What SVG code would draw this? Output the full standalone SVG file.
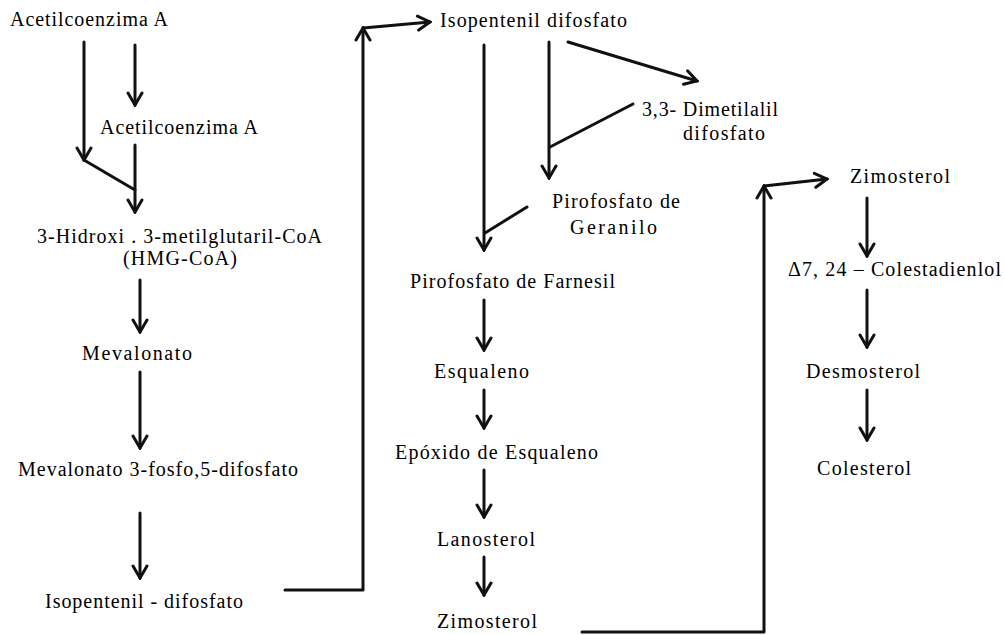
<svg xmlns="http://www.w3.org/2000/svg" width="1004" height="635" viewBox="0 0 1004 635">
<style>
text{font-family:"Liberation Serif","Times New Roman",serif;font-size:20px;fill:#000;}
.c line,.c polyline{stroke:#111;stroke-width:3;fill:none;stroke-linecap:round;stroke-linejoin:round;}
</style>
<defs>
<marker id="ah" markerUnits="userSpaceOnUse" viewBox="-14 -9 16 18" refX="0" refY="0" markerWidth="16" markerHeight="18" orient="auto">
<path d="M-12,-7 L0,0 L-12,7" fill="none" stroke="#111" stroke-width="3" stroke-linecap="round" stroke-linejoin="miter"/>
</marker>
</defs>
<rect width="1004" height="635" fill="#fff"/>
<g class="c" id="connectors">
<line x1="84" y1="42" x2="84" y2="160" marker-end="url(#ah)"/>
<line x1="135" y1="45" x2="135" y2="105" marker-end="url(#ah)"/>
<polyline points="84,160 135,190"/>
<line x1="135" y1="145" x2="135" y2="212" marker-end="url(#ah)"/>
<line x1="140" y1="280" x2="140" y2="332" marker-end="url(#ah)"/>
<line x1="140" y1="372" x2="140" y2="448" marker-end="url(#ah)"/>
<line x1="140" y1="513" x2="140" y2="578" marker-end="url(#ah)"/>
<polyline points="285,590 363,590 363,28" marker-end="url(#ah)"/>
<line x1="363" y1="28" x2="430" y2="22" marker-end="url(#ah)"/>
<line x1="484" y1="45" x2="484" y2="250" marker-end="url(#ah)"/>
<line x1="549" y1="42" x2="549" y2="178" marker-end="url(#ah)"/>
<line x1="568" y1="42" x2="697" y2="81" marker-end="url(#ah)"/>
<line x1="633" y1="104" x2="550" y2="147"/>
<line x1="527" y1="207" x2="485" y2="233"/>
<line x1="484" y1="300" x2="484" y2="350" marker-end="url(#ah)"/>
<line x1="484" y1="390" x2="484" y2="428" marker-end="url(#ah)"/>
<line x1="484" y1="470" x2="484" y2="517" marker-end="url(#ah)"/>
<line x1="484" y1="557" x2="484" y2="595" marker-end="url(#ah)"/>
<polyline points="582,632 764,632 764,186" marker-end="url(#ah)"/>
<line x1="764" y1="186" x2="827" y2="179" marker-end="url(#ah)"/>
<line x1="867" y1="198" x2="867" y2="256" marker-end="url(#ah)"/>
<line x1="867" y1="290" x2="867" y2="347" marker-end="url(#ah)"/>
<line x1="867" y1="390" x2="867" y2="440" marker-end="url(#ah)"/>
</g>
<g id="acetil1"><text x="10" y="26" textLength="158" lengthAdjust="spacing">Acetilcoenzima A</text></g>
<g id="acetil2"><text x="100" y="134" textLength="158" lengthAdjust="spacing">Acetilcoenzima A</text></g>
<g id="hmgcoa"><text x="37" y="243" textLength="285" lengthAdjust="spacing">3-Hidroxi . 3-metilglutaril-CoA</text><text x="123" y="265" textLength="114" lengthAdjust="spacing">(HMG-CoA)</text></g>
<g id="mevalonato"><text x="82" y="360" textLength="110" lengthAdjust="spacing">Mevalonato</text></g>
<g id="mevalonato-pp"><text x="18" y="476" textLength="280" lengthAdjust="spacing">Mevalonato 3-fosfo,5-difosfato</text></g>
<g id="ipp1"><text x="45" y="608" textLength="198" lengthAdjust="spacing">Isopentenil - difosfato</text></g>
<g id="ipp2"><text x="440" y="27" textLength="187" lengthAdjust="spacing">Isopentenil difosfato</text></g>
<g id="dmapp"><text x="642" y="116" textLength="136" lengthAdjust="spacing">3,3- Dimetilalil</text><text x="683" y="140" textLength="82" lengthAdjust="spacing">difosfato</text></g>
<g id="gpp"><text x="552" y="208" textLength="128" lengthAdjust="spacing">Pirofosfato de</text><text x="570" y="234" textLength="87" lengthAdjust="spacing">Geranilo</text></g>
<g id="fpp"><text x="410" y="288" textLength="205" lengthAdjust="spacing">Pirofosfato de Farnesil</text></g>
<g id="esqualeno"><text x="434" y="378" textLength="95" lengthAdjust="spacing">Esqualeno</text></g>
<g id="epoxido"><text x="395" y="459" textLength="203" lengthAdjust="spacing">Epóxido de Esqualeno</text></g>
<g id="lanosterol"><text x="437" y="546" textLength="98" lengthAdjust="spacing">Lanosterol</text></g>
<g id="zimosterol1"><text x="437" y="628" textLength="100" lengthAdjust="spacing">Zimosterol</text></g>
<g id="zimosterol2"><text x="850" y="183" textLength="100" lengthAdjust="spacing">Zimosterol</text></g>
<g id="colestadienol"><text x="788" y="276" textLength="213" lengthAdjust="spacing">Δ7, 24 – Colestadienlol</text></g>
<g id="desmosterol"><text x="806" y="378" textLength="114" lengthAdjust="spacing">Desmosterol</text></g>
<g id="colesterol"><text x="817" y="475" textLength="94" lengthAdjust="spacing">Colesterol</text></g>
</svg>
